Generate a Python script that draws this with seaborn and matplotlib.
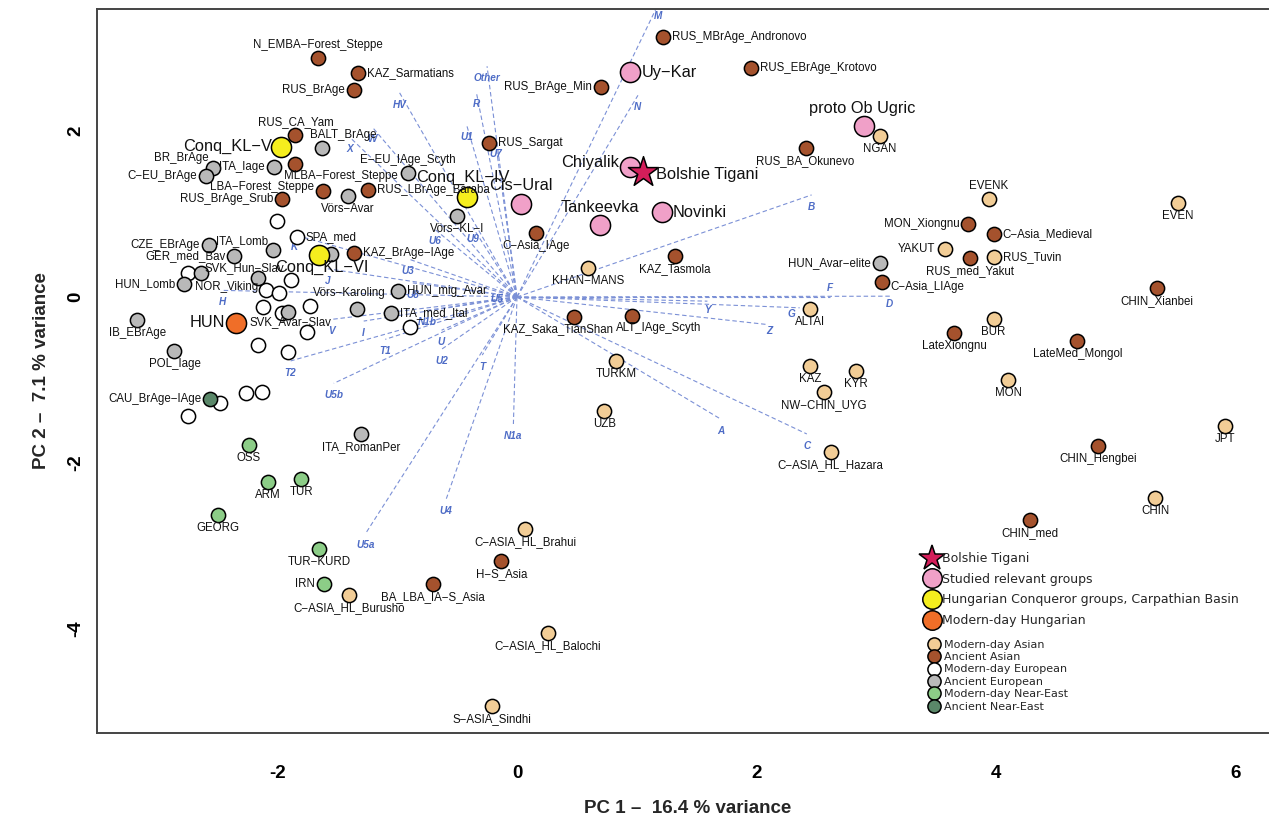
import numpy as np
import pandas as pd
import matplotlib
matplotlib.use('Agg')
import matplotlib.pyplot as plt
import seaborn as sns
from matplotlib.lines import Line2D

# ---- population coordinates (PC1, PC2) ----
anc_asian_names = ['N_EMBA-Forest_Steppe', 'KAZ_Sarmatians', 'RUS_BrAge', 'RUS_CA_Yam', 'MLBA-Forest_Steppe',
                   'LBA-Forest_Steppe', 'RUS_BrAge_Srub', 'RUS_LBrAge_Baraba', 'KAZ_BrAge-IAge', 'RUS_Sargat',
                   'RUS_MBrAge_Andronovo', 'RUS_EBrAge_Krotovo', 'RUS_BrAge_Min', 'RUS_BA_Okunevo', 'C-Asia_IAge',
                   'KAZ_Tasmola', 'KAZ_Saka_TianShan', 'ALT_IAge_Scyth', 'MON_Xiongnu', 'C-Asia_Medieval',
                   'RUS_med_Yakut', 'C-Asia_LIAge', 'CHIN_Xianbei', 'LateXiongnu', 'LateMed_Mongol',
                   'CHIN_Hengbei', 'CHIN_med', 'H-S_Asia', 'BA_LBA_IA-S_Asia']
anc_asian_pc1 = [-1.66, -1.33, -1.36, -1.85, -1.85, -1.62, -1.96, -1.24, -1.36, -0.23,
                 1.22, 1.95, 0.70, 2.41, 0.16, 1.32, 0.48, 0.96, 3.77, 3.98,
                 3.78, 3.05, 5.34, 3.65, 4.68, 4.85, 4.28, -0.13, -0.70]
anc_asian_pc2 = [2.88, 2.70, 2.49, 1.95, 1.60, 1.28, 1.18, 1.29, 0.53, 1.86,
                 3.13, 2.76, 2.53, 1.80, 0.77, 0.49, -0.24, -0.23, 0.88, 0.76,
                 0.47, 0.18, 0.11, -0.43, -0.53, -1.80, -2.69, -3.18, -3.46]

mod_asian_names = ['NGAN', 'EVENK', 'EVEN', 'YAKUT', 'RUS_Tuvin', 'KHAN-MANS', 'ALTAI', 'BUR', 'KAZ', 'KYR',
                   'NW-CHIN_UYG', 'MON', 'TURKM', 'UZB', 'C-ASIA_HL_Hazara', 'JPT', 'CHIN',
                   'C-ASIA_HL_Brahui', 'C-ASIA_HL_Burusho', 'C-ASIA_HL_Balochi', 'S-ASIA_Sindhi']
mod_asian_pc1 = [3.03, 3.94, 5.52, 3.57, 3.98, 0.59, 2.45, 3.98, 2.45, 2.83,
                 2.56, 4.10, 0.83, 0.73, 2.62, 5.91, 5.33, 0.07, -1.40, 0.26, -0.21]
mod_asian_pc2 = [1.94, 1.18, 1.13, 0.58, 0.48, 0.35, -0.15, -0.27, -0.83, -0.89,
                 -1.15, -1.00, -0.77, -1.37, -1.87, -1.55, -2.42, -2.80, -3.59, -4.05, -4.93]

anc_europ_names = ['BALT_BrAge', 'BR_BrAge', 'C-EU_BrAge', 'ITA_Iage', 'Vörs-Avar', 'E-EU_IAge_Scyth',
                   'Vörs-KL-I', '', 'CZE_EBrAge', 'ITA_Lomb', 'GER_med_Bav', 'SVK_Hun-Slav', '',
                   'HUN_Lomb', 'HUN_mig_Avar', 'Vörs-Karoling', 'ITA_med_Ital', 'SVK_Avar-Slav',
                   'IB_EBrAge', 'POL_Iage', 'ITA_RomanPer', 'HUN_Avar-elite']
anc_europ_pc1 = [-1.63, -2.54, -2.60, -2.03, -1.41, -0.91, -0.50, -1.55, -2.57, -2.04, -2.36, -2.64, -2.16,
                 -2.78, -0.99, -1.34, -1.05, -1.91, -3.17, -2.86, -1.30, 3.03]
anc_europ_pc2 = [1.80, 1.55, 1.46, 1.57, 1.22, 1.49, 0.98, 0.52, 0.63, 0.57, 0.49, 0.29, 0.23,
                 0.16, 0.07, -0.15, -0.19, -0.18, -0.28, -0.65, -1.65, 0.41]

mod_europ_names = ['', 'SPA_med', '', '', 'NOR_Viking', '', '', '', '', '', '', '', '', '', '', '', '']
mod_europ_pc1 = [-2.00, -1.84, -2.75, -1.89, -2.10, -1.99, -2.12, -1.73, -1.96, -1.75, -0.89,
                 -2.16, -1.91, -2.26, -2.13, -2.48, -2.75]
mod_europ_pc2 = [0.92, 0.72, 0.29, 0.21, 0.08, 0.05, -0.12, -0.11, -0.19, -0.42, -0.36,
                 -0.58, -0.66, -1.16, -1.15, -1.28, -1.43]

mod_neast_names = ['OSS', 'ARM', 'TUR', 'GEORG', 'TUR-KURD', 'IRN']
mod_neast_pc1 = [-2.24, -2.08, -1.80, -2.50, -1.65, -1.61]
mod_neast_pc2 = [-1.78, -2.23, -2.19, -2.63, -3.04, -3.46]

anc_neast_names = ['CAU_BrAge-IAge']
anc_neast_pc1 = [-2.56]
anc_neast_pc2 = [-1.23]

studied_names = ['Uy-Kar', 'Chiyalik', 'Cis-Ural', 'Tankeevka', 'Novinki', 'proto Ob Ugric']
studied_pc1 = [0.94, 0.94, 0.03, 0.69, 1.21, 2.90]
studied_pc2 = [2.71, 1.57, 1.12, 0.87, 1.02, 2.06]

conq_names = ['Conq_KL-V', 'Conq_KL-IV', 'Conq_KL-VI']
conq_pc1 = [-1.97, -0.42, -1.65]
conq_pc2 = [1.81, 1.21, 0.51]

hun_names = ['HUN']
hun_pc1 = [-2.35]
hun_pc2 = [-0.31]

tigani_names = ['Bolshie Tigani']
tigani_pc1 = [1.05]
tigani_pc2 = [1.51]

# ---- haplogroup loadings ----
hg_names = ['M', 'N', 'Other', 'R', 'U1', 'U7', 'HV', 'W', 'X', 'U6', 'U9', 'K', 'U3', 'J', 'U8', 'U5',
            'H', 'N1b', 'V', 'I', 'U', 'T1', 'U2', 'T', 'T2', 'U5b', 'N1a', 'U4', 'U5a',
            'A', 'C', 'Z', 'Y', 'G', 'F', 'D', 'B']
hg_pc1 = [1.18, 1.01, -0.25, -0.34, -0.42, -0.18, -0.98, -1.21, -1.40, -0.69, -0.37, -1.86, -0.91, -1.58,
          -0.87, -0.17, -2.46, -0.75, -1.55, -1.28, -0.63, -1.10, -0.63, -0.29, -1.89, -1.53, -0.03,
          -0.59, -1.26, 1.70, 2.42, 2.08, 1.59, 2.36, 2.61, 3.13, 2.46]
hg_pc2 = [3.53, 2.43, 2.78, 2.47, 2.07, 1.87, 2.46, 2.05, 1.93, 0.82, 0.84, 0.75, 0.46, 0.34,
          0.17, 0.12, 0.08, -0.16, -0.27, -0.29, -0.40, -0.51, -0.63, -0.70, -0.77, -1.04, -1.53,
          -2.43, -2.84, -1.47, -1.65, -0.33, -0.05, -0.13, 0.00, 0.01, 1.23]

# ---- styling ----
groups = [
    # key, names, pc1, pc2, fill, size, marker, legend text
    ('mod_asian', mod_asian_names, mod_asian_pc1, mod_asian_pc2, '#f2cd96', 105, 'o', 'Modern-day Asian'),
    ('anc_asian', anc_asian_names, anc_asian_pc1, anc_asian_pc2, '#a5522d', 105, 'o', 'Ancient Asian'),
    ('mod_europ', mod_europ_names, mod_europ_pc1, mod_europ_pc2, '#ffffff', 105, 'o', 'Modern-day European'),
    ('anc_europ', anc_europ_names, anc_europ_pc1, anc_europ_pc2, '#b9b9b9', 105, 'o', 'Ancient European'),
    ('mod_neast', mod_neast_names, mod_neast_pc1, mod_neast_pc2, '#8ccd87', 105, 'o', 'Modern-day Near-East'),
    ('anc_neast', anc_neast_names, anc_neast_pc1, anc_neast_pc2, '#5a8769', 105, 'o', 'Ancient Near-East'),
    ('studied', studied_names, studied_pc1, studied_pc2, '#f0a0c8', 210, 'o', 'Studied relevant groups'),
    ('conq', conq_names, conq_pc1, conq_pc2, '#f5ee1e', 210, 'o', 'Hungarian Conqueror groups, Carpathian Basin'),
    ('hun', hun_names, hun_pc1, hun_pc2, '#f06e28', 210, 'o', 'Modern-day Hungarian'),
    ('tigani', tigani_names, tigani_pc1, tigani_pc2, '#d41e5a', 520, '*', 'Bolshie Tigani'),
]
big_groups = {'studied', 'conq', 'hun', 'tigani'}

# label placement: a/b/l/r or (dx, dy, ha) in pixels
label_pos = {
    'N_EMBA-Forest_Steppe': 'a', 'KAZ_Sarmatians': 'r', 'RUS_BrAge': 'l', 'RUS_CA_Yam': 'a',
    'MLBA-Forest_Steppe': (-11, -12, 'left'), 'LBA-Forest_Steppe': (-9, 4, 'right'), 'RUS_BrAge_Srub': 'l',
    'RUS_LBrAge_Baraba': 'r', 'KAZ_BrAge-IAge': 'r', 'RUS_Sargat': 'r', 'RUS_MBrAge_Andronovo': 'r',
    'RUS_EBrAge_Krotovo': 'r', 'RUS_BrAge_Min': 'l', 'MON_Xiongnu': 'l', 'C-Asia_Medieval': 'r',
    'C-Asia_LIAge': (8, -5, 'left'), 'YAKUT': 'l', 'RUS_Tuvin': 'r', 'EVENK': 'a',
    'KAZ_Saka_TianShan': (-16, -12, 'center'), 'ALT_IAge_Scyth': (27, -12, 'center'),
    'BALT_BrAge': (-12, 13, 'left'), 'BR_BrAge': (-4, 10, 'right'), 'C-EU_BrAge': 'l', 'ITA_Iage': 'l',
    'E-EU_IAge_Scyth': 'a', 'CZE_EBrAge': 'l', 'ITA_Lomb': (-5, 9, 'right'), 'GER_med_Bav': 'l',
    'SVK_Hun-Slav': (4, 5, 'left'), 'HUN_Lomb': 'l', 'HUN_mig_Avar': 'r', 'Vörs-Karoling': (-7, 16, 'center'),
    'ITA_med_Ital': 'r', 'SVK_Avar-Slav': (2, -10, 'center'), 'HUN_Avar-elite': 'l', 'SPA_med': 'r',
    'NOR_Viking': (-7, 3, 'right'), 'CAU_BrAge-IAge': 'l', 'IRN': 'l',
    'Uy-Kar': (12, 0, 'left'), 'Chiyalik': (-11, 4, 'right'), 'Cis-Ural': (0, 19, 'center'),
    'Tankeevka': (0, 17, 'center'), 'Novinki': (11, 0, 'left'), 'proto Ob Ugric': (-2, 18, 'center'),
    'Conq_KL-V': (-9, 0, 'right'), 'Conq_KL-IV': (-4, 19, 'center'), 'Conq_KL-VI': (2, -13, 'center'),
    'HUN': (-10, 0, 'right'), 'Bolshie Tigani': (13, -3, 'left'),
}

hg_label_off = {'F': (0, 9), 'D': (-2, -8), 'G': (-8, -6), 'Z': (3, -7), 'Y': (0, -9)}

# ---- figure ----
sns.set_style('white')
plt.rcParams['font.family'] = ['Liberation Sans', 'DejaVu Sans']

fig = plt.figure(figsize=(12.7, 8.23), dpi=100)
ax = fig.add_axes([97 / 1270, 1 - 733 / 823, (1268 - 97) / 1270, (733 - 9) / 823])

# loadings (dashed blue lines from the origin)
for name, lx, ly in zip(hg_names, hg_pc1, hg_pc2):
    ax.plot([0, lx], [0, ly], color='#7b90d6', lw=0.8, ls=(0, (4, 2.5)), zorder=1)
    dx, dy = hg_label_off.get(name, (0, -12))
    ax.annotate(name, (lx, ly), xytext=(dx, dy), textcoords='offset pixels',
                ha='center', va='center', fontsize=7.2, fontstyle='italic', fontweight='bold',
                color='#4e6cc6', zorder=2, annotation_clip=False)

# points
for key, names, xs, ys, fill, size, marker, _ in groups:
    df = pd.DataFrame({'PC1': xs, 'PC2': ys, 'pop': names})
    sns.scatterplot(data=df, x='PC1', y='PC2', color=fill, s=size, marker=marker,
                    edgecolor='black', linewidth=1.1, ax=ax, legend=False, zorder=3)
    big = key in big_groups
    for name, x, y in zip(names, xs, ys):
        if not name:
            continue
        pos = label_pos.get(name, 'b')
        gx = 13 if big else 9
        gy = 18 if big else 13
        if pos == 'b':
            dx, dy, ha = 0, -gy, 'center'
        elif pos == 'a':
            dx, dy, ha = 0, gy, 'center'
        elif pos == 'l':
            dx, dy, ha = -gx, 0, 'right'
        elif pos == 'r':
            dx, dy, ha = gx, 0, 'left'
        else:
            dx, dy, ha = pos
        txt = name.replace('-', '\u2212') if name != 'Bolshie Tigani' else name
        ax.annotate(txt, (x, y), xytext=(dx, dy), textcoords='offset pixels',
                    ha=ha, va='center', fontsize=11.8 if big else 8.3,
                    color='#111111', zorder=4)

# axes
ax.set_xlim(-3.507, 6.271)
ax.set_ylim(-5.253, 3.470)
ax.set_xticks([-2, 0, 2, 4, 6])
ax.set_yticks([-4, -2, 0, 2])
tick_font = {'family': 'Liberation Sans', 'weight': 'bold', 'size': 13.5}
ax.set_xticklabels(['-2', '0', '2', '4', '6'], fontdict=tick_font)
ax.set_yticklabels(['-4', '-2', '0', '2'], fontdict=tick_font, rotation=90, va='center')
ax.tick_params(axis='x', length=6, width=1, pad=17, colors='#333333', labelcolor='black')
ax.tick_params(axis='y', length=6, width=1, pad=3, colors='#333333', labelcolor='black')
for side in ['left', 'bottom', 'top']:
    ax.spines[side].set_color('#444444')
    ax.spines[side].set_linewidth(1.4)
ax.spines['right'].set_visible(False)

lab_font = {'family': 'Liberation Sans', 'weight': 'bold', 'size': 13.5}
ax.set_xlabel('PC 1 \u2013  16.4 % variance', fontdict=lab_font)
ax.set_ylabel('PC 2 \u2013  7.1 % variance', fontdict=lab_font)
ax.xaxis.set_label_coords(0.504, -0.092)
ax.yaxis.set_label_coords(-0.040, 0.5)

# legends
def handle(fill, ms, marker='o'):
    return Line2D([], [], ls='', marker=marker, markerfacecolor=fill, markeredgecolor='black',
                  markeredgewidth=1.1, markersize=ms)

big_order = ['tigani', 'studied', 'conq', 'hun']
small_order = ['mod_asian', 'anc_asian', 'mod_europ', 'anc_europ', 'mod_neast', 'anc_neast']
gmap = {g[0]: g for g in groups}

h1 = [handle(gmap[k][4], 19 if k == 'tigani' else 14, gmap[k][6]) for k in big_order]
l1 = [gmap[k][7] for k in big_order]
leg1 = ax.legend(h1, l1, loc='upper left', bbox_to_anchor=(0.708, 0.250), frameon=False,
                 borderpad=0, borderaxespad=0, handlelength=1.0, handletextpad=0.3,
                 labelspacing=0.62, prop={'family': 'DejaVu Sans', 'size': 9})
ax.add_artist(leg1)

h2 = [handle(gmap[k][4], 9.5) for k in small_order]
l2 = [gmap[k][7] for k in small_order]
ax.legend(h2, l2, loc='upper left', bbox_to_anchor=(0.7097, 0.129), frameon=False,
          borderpad=0, borderaxespad=0, handlelength=1.0, handletextpad=0.45,
          labelspacing=0.22, prop={'family': 'DejaVu Sans', 'size': 8})

fig.savefig('out.png', dpi=100)
